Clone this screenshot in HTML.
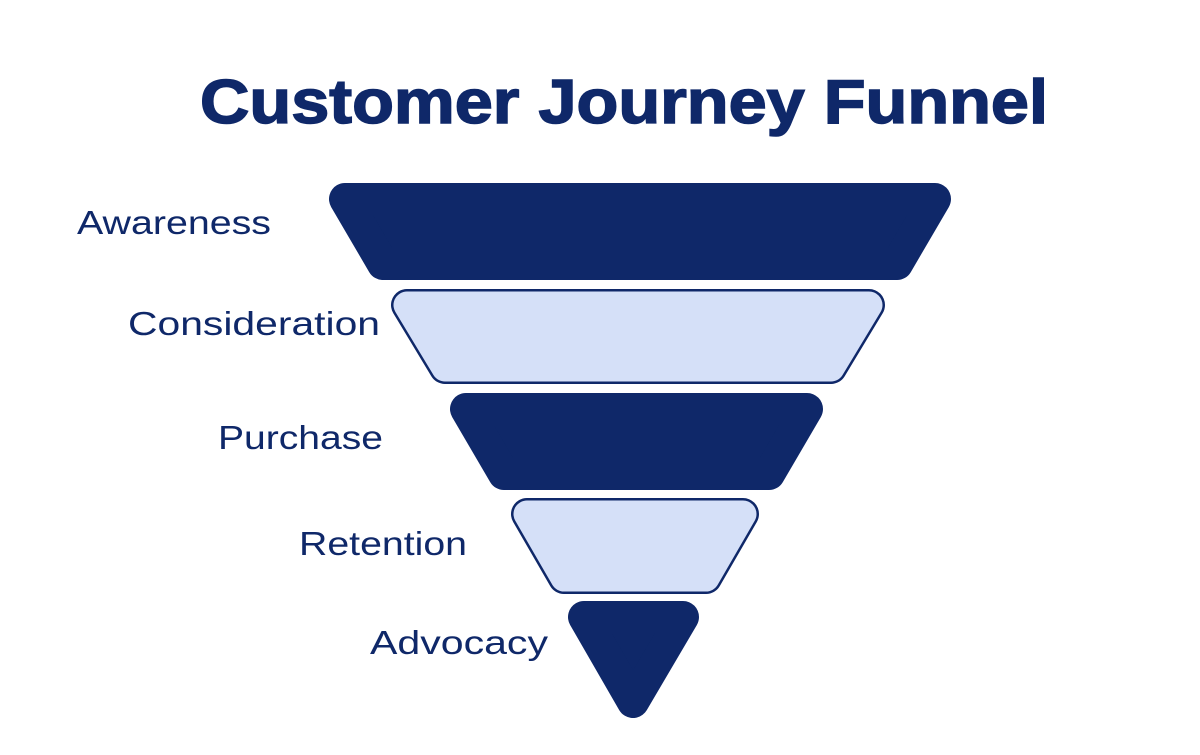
<!DOCTYPE html>
<html><head><meta charset="utf-8"><style>
html,body{margin:0;padding:0;background:#fff;}
svg{display:block;}
</style></head><body>
<svg width="1200" height="755" viewBox="0 0 1200 755" xmlns="http://www.w3.org/2000/svg">
<rect width="1200" height="755" fill="#fff"/>
<text x="200" y="123" font-family="Liberation Sans, sans-serif" font-weight="bold" font-size="62" fill="#0f2869" stroke="#0f2869" stroke-width="1.5" textLength="848" lengthAdjust="spacingAndGlyphs">Customer Journey Funnel</text>
<g stroke-linejoin="round">
<polygon points="345,199 935,199 897,264 383,264" fill="#0f2869" stroke="#0f2869" stroke-width="32"/>
<polygon points="407,305 869,305 831,368 445,368" fill="#0f2869" stroke="#0f2869" stroke-width="32"/>
<polygon points="407,305 869,305 831,368 445,368" fill="#d5e0f8" stroke="#d5e0f8" stroke-width="27"/>
<polygon points="466,409 807,409 769,474 504,474" fill="#0f2869" stroke="#0f2869" stroke-width="32"/>
<polygon points="527,514 743,514 706,578 564,578" fill="#0f2869" stroke="#0f2869" stroke-width="32"/>
<polygon points="527,514 743,514 706,578 564,578" fill="#d5e0f8" stroke="#d5e0f8" stroke-width="27"/>
<polygon points="584,617 683,617 633,702" fill="#0f2869" stroke="#0f2869" stroke-width="32"/>
</g>
<g font-family="Liberation Sans, sans-serif" font-size="33" fill="#0f2869">
<text x="77" y="234" textLength="194" lengthAdjust="spacingAndGlyphs">Awareness</text>
<text x="128" y="335" textLength="252" lengthAdjust="spacingAndGlyphs">Consideration</text>
<text x="218" y="449" textLength="165" lengthAdjust="spacingAndGlyphs">Purchase</text>
<text x="299" y="555" textLength="168" lengthAdjust="spacingAndGlyphs">Retention</text>
<text x="370" y="654" textLength="178" lengthAdjust="spacingAndGlyphs">Advocacy</text>
</g>
</svg>
</body></html>
